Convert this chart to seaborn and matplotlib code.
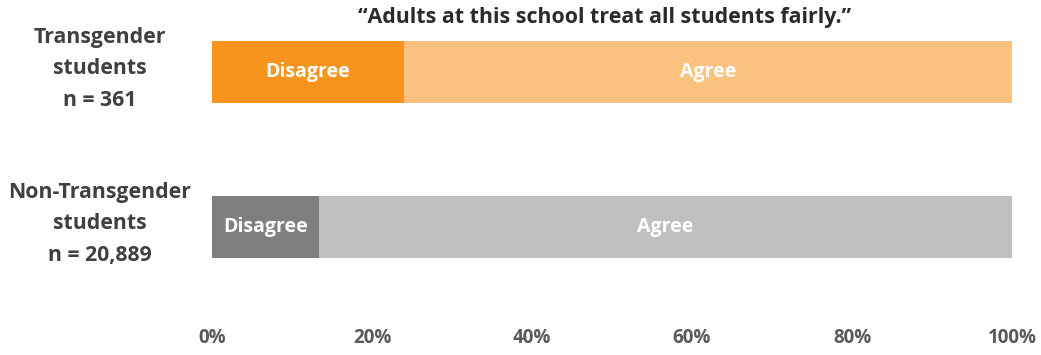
import matplotlib
matplotlib.use("Agg")
import matplotlib.pyplot as plt
import matplotlib.transforms as mtransforms
import pandas as pd
import seaborn as sns

# Survey results
groups = ["Transgender", "Non-Transgender"]
group_labels = ["Transgender\nstudents\nn = 361", "Non-Transgender\nstudents\nn = 20,889"]
disagree = [24.0, 13.4]
agree = [76.0, 86.6]
x_ticks = [0, 20, 40, 60, 80, 100]
tick_labels = ["0%", "20%", "40%", "60%", "80%", "100%"]
title = "\u201cAdults at this school treat all students fairly.\u201d"

dark_colors = ["#F7941D", "#7F7F7F"]
light_colors = ["#FAC27E", "#BFBFBF"]

sns.set_theme(style="white")
plt.rcParams["font.family"] = ["Open Sans", "DejaVu Sans"]
plt.rcParams["font.weight"] = "bold"

df = pd.DataFrame({
    "group": groups,
    "disagree": disagree,
    "agree": agree,
})
df["total"] = df["disagree"] + df["agree"]

fig = plt.figure(figsize=(10.41, 3.55), dpi=100)
ax = fig.add_axes([212 / 1041, 35 / 355, 800 / 1041, 294.5 / 355])

# Full bar (agree stacked after disagree) then the disagree segment on top
sns.barplot(data=df, y="group", x="total", hue="group", palette=light_colors,
            orient="h", width=0.4, legend=False, ax=ax, saturation=1, linewidth=0)
sns.barplot(data=df, y="group", x="disagree", hue="group", palette=dark_colors,
            orient="h", width=0.4, legend=False, ax=ax, saturation=1, linewidth=0)

ax.set_xlim(0, 100)
ax.set_ylim(1.6, -0.3)
ax.set_xticks(x_ticks)
ax.set_xticklabels(tick_labels, fontsize=13.5, fontweight="bold", color="#595959")
ax.tick_params(axis="x", length=0, pad=6)
ax.set_yticks([])
ax.set_xlabel("")
ax.set_ylabel("")
for s in ax.spines.values():
    s.set_visible(False)

# Segment labels
for i, (d, a) in enumerate(zip(disagree, agree)):
    ax.text(d / 2, i, "Disagree", ha="center", va="center", color="white",
            fontsize=14, fontweight="bold")
    ax.text(d + a / 2, i, "Agree", ha="center", va="center", color="white",
            fontsize=14, fontweight="bold")

# Group labels on the left
trans = mtransforms.blended_transform_factory(fig.transFigure, ax.transData)
for i, lab in enumerate(group_labels):
    ax.text(100 / 1041, i - 0.02, lab, transform=trans, ha="center", va="center",
            fontsize=15.3, fontweight="bold", color="#404040", linespacing=1.65)

fig.text(605 / 1041, 1 - 17 / 355, title, ha="center", va="center",
         fontsize=15.4, fontweight="bold", color="#2B2B2B")

fig.savefig("out.png", dpi=100)
